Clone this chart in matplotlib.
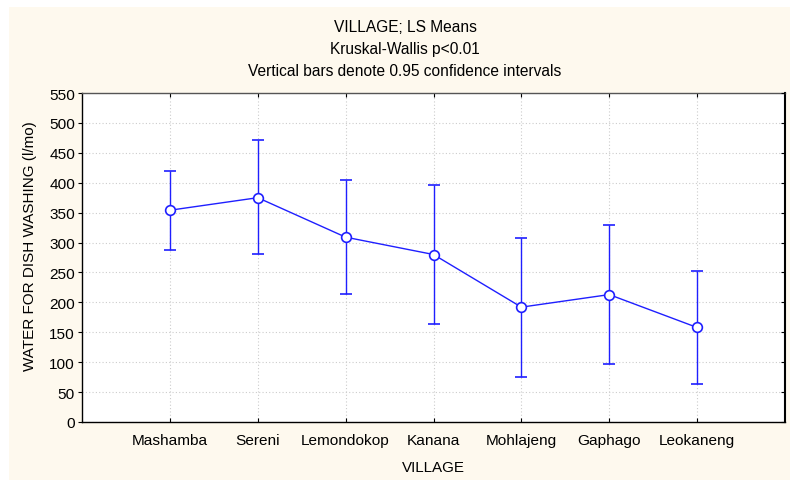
import matplotlib
matplotlib.use("Agg")
import matplotlib.pyplot as plt
from matplotlib.patches import Rectangle

villages = ["Mashamba", "Sereni", "Lemondokop", "Kanana", "Mohlajeng", "Gaphago", "Leokaneng"]
means = [354, 375, 309, 280, 192, 213, 158]
lower = [288, 281, 214, 164, 76, 97, 63]
upper = [420, 471, 404, 397, 308, 329, 253]
yticks = list(range(0, 551, 50))
title_lines = ["VILLAGE; LS Means", "Kruskal-Wallis p<0.01", "Vertical bars denote 0.95 confidence intervals"]

plt.rcParams['font.family'] = ['Liberation Sans', 'DejaVu Sans']
W, H = 790, 481
fig = plt.figure(figsize=(W / 100, H / 100), dpi=100)
fig.patch.set_facecolor('white')
fig.patches.append(Rectangle((9 / W, 0), (W - 9) / W, (H - 8) / H, transform=fig.transFigure,
                             facecolor='#FEF9EE', edgecolor='none', zorder=-5))

ax = fig.add_axes([82 / W, 1 - 423 / H, (785 - 82) / W, (423 - 94) / H])
ax.set_facecolor('white')
x = list(range(len(villages)))
yerr = [[m - l for m, l in zip(means, lower)], [u - m for m, u in zip(means, upper)]]
ax.errorbar(x, means, yerr=yerr, color='#1F1FFF', lw=1, elinewidth=1, capsize=4, capthick=1,
            marker='o', markersize=7, markerfacecolor='white', markeredgecolor='#1F1FFF',
            markeredgewidth=1.2, zorder=3)
ax.set_xlim(-1, len(villages))
ax.set_ylim(0, 550)
ax.set_yticks(yticks)
ax.set_xticks(x)
ax.set_xticklabels(villages)
ax.grid(True, color='#CCCCCC', linestyle=(0, (1, 2)), linewidth=0.8)
ax.set_axisbelow(True)
for s in ax.spines.values():
    s.set_color('black')
    s.set_linewidth(1)
ax.spines['top'].set_color('#555555')
ax.spines['right'].set_linewidth(1.5)
ax.tick_params(axis='y', which='both', left=True, right=False, direction='out', length=3,
               labelsize=11.1, pad=2)
ax.tick_params(axis='x', which='both', bottom=True, top=True, direction='in', length=3,
               labelsize=11.1, pad=8)
ax.set_xlabel("VILLAGE", fontsize=10.9, labelpad=9.5)

ax2 = ax.twinx()
ax2.set_ylim(ax.get_ylim())
ax2.set_yticks(yticks)
ax2.tick_params(axis='y', direction='in', length=3, labelright=False, right=True)
for s in ax2.spines.values():
    s.set_visible(False)

fig.text(30 / W, 1 - 246 / H, "WATER FOR DISH WASHING (l/mo)", rotation=90,
         ha='center', va='center', fontsize=11)

for yy, t in zip([27.5, 49.5, 71.5], title_lines):
    fig.text(405 / W, 1 - yy / H, t, ha='center', va='center', fontsize=11.2)

fig.savefig("out.png", dpi=100, facecolor=fig.get_facecolor())
